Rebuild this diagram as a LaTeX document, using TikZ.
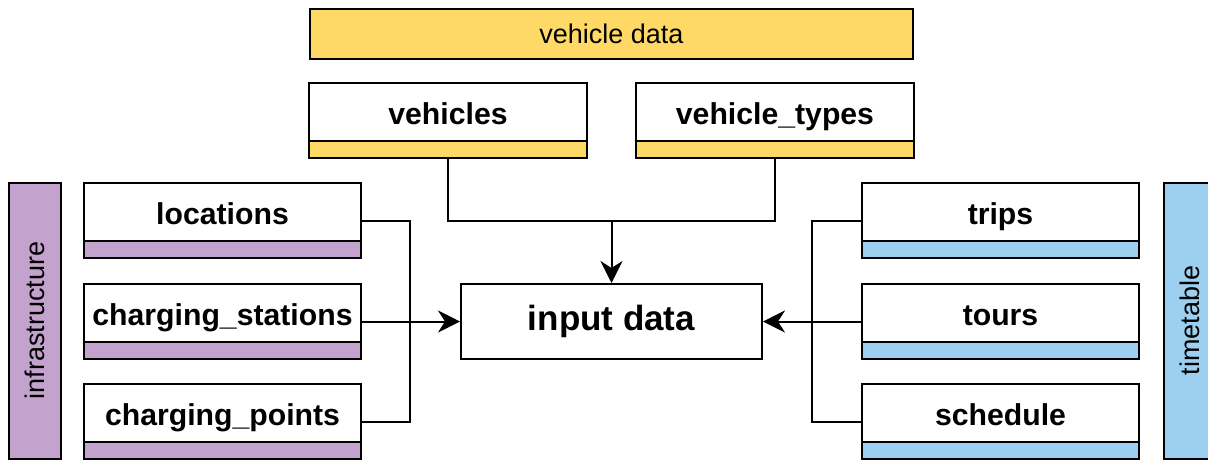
\documentclass[tikz,border=0pt]{standalone}
\usepackage{fontspec}
\setmainfont{Liberation Sans}
\usetikzlibrary{arrows.meta,calc}
\definecolor{cyellow}{HTML}{FFD966}
\definecolor{cpurple}{HTML}{C3A3CE}
\definecolor{cblue}{HTML}{9DD0F0}
\tikzset{
  tbl/.style={minimum width=277pt, minimum height=75pt, inner sep=0pt},
  tbltext/.style={font=\fontsize{30.2}{32}\selectfont\bfseries, inner sep=0pt},
  grp/.style={draw, line width=2pt, inner sep=0pt, font=\fontsize{27}{30}\selectfont},
  conn/.style={line width=2pt},
  arr/.style={line width=2pt, -{Stealth[length=22pt,width=22pt,inset=7pt]}},
}
\newcommand\mytbl[5]{%
  \node[tbl] (#1) at (#2,{-(#3)-37.5}) {};
  \fill[#5] ($(#1.south west)+(0,17)$) rectangle (#1.south east);
  \draw[line width=2pt] ($(#1.south west)+(0,17)$) -- ($(#1.south east)+(0,17)$);
  \draw[line width=2pt] (#1.south west) rectangle (#1.north east);
  \node[tbltext, anchor=base] (#1-t) at ($(#1.north)+(0,-42)$) {#4};
}
\begin{document}
\begin{tikzpicture}[x=1pt,y=1pt]
\useasboundingbox (0,0) rectangle (1208,-459);
% group bars
\node[grp, fill=cyellow, minimum width=603pt, minimum height=50pt] (vd) at (611.5,-34) {vehicle data};
\node[grp, fill=cpurple, rotate=90, minimum width=276pt, minimum height=52pt] (infra) at (35,-320.5) {infrastructure};
\node[grp, fill=cblue, rotate=90, minimum width=276pt, minimum height=52pt] (tt) at (1190,-320.5) {timetable};
% tables
\mytbl{veh}{448}{83}{vehicles}{cyellow}
\mytbl{vt}{775}{83}{vehicle\_types}{cyellow}
\mytbl{loc}{222.5}{183}{locations}{cpurple}
\mytbl{cs}{222.5}{284}{charging\_stations}{cpurple}
\mytbl{cp}{222.5}{384}{charging\_points}{cpurple}
\mytbl{trips}{1000.5}{183}{trips}{cblue}
\mytbl{tours}{1000.5}{284}{tours}{cblue}
\mytbl{sched}{1000.5}{384}{schedule}{cblue}
% input
\node[draw, line width=2pt, minimum width=301pt, minimum height=75pt, inner sep=0pt,
      font=\fontsize{35}{38}\selectfont\bfseries] (inp) at (611.5,-321.5) {input data};
% connectors
\draw[conn] (loc.east) -- ($(loc.east)+(49,0)$) |- (cp.east);
\draw[arr] (cs.east) -- (inp.west);
\draw[conn] (trips.west) -- ($(trips.west)+(-50,0)$) |- (sched.west);
\draw[arr] (tours.west) -- (inp.east);
\draw[conn] (veh.south) -- ($(veh.south)+(0,-63)$) -| (vt.south);
\coordinate (vj) at ($($(veh.south)!0.5!(vt.south)$)+(0,-63)$);
\draw[arr] (vj) -- (inp.north);
\end{tikzpicture}
\end{document}
